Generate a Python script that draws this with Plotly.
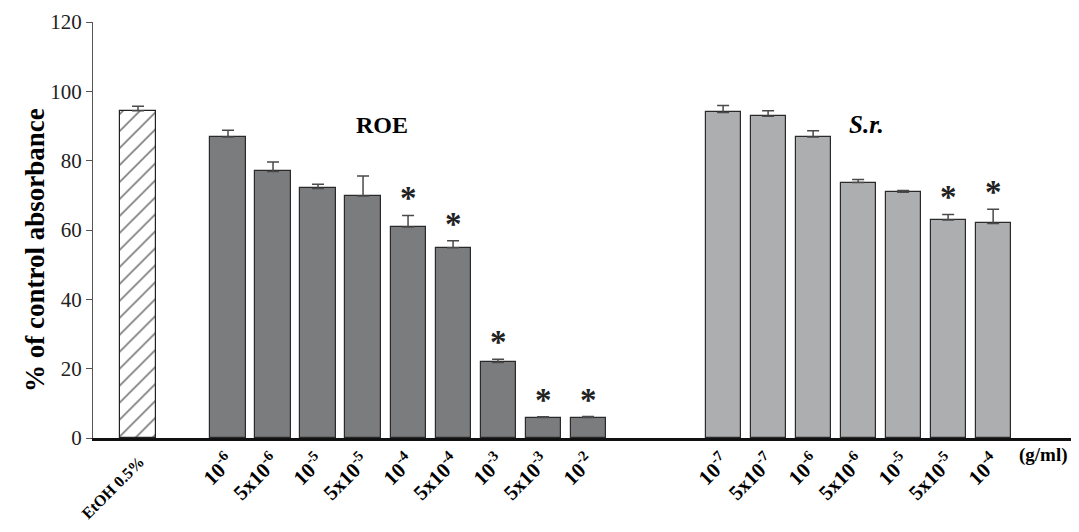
import plotly.graph_objects as go

# ---- data ----
etoh_label = ["EtOH 0.5%"]
etoh_vals = [94.4]
etoh_errs = [1.3]

roe_labels = ["10<sup>-6</sup>", "5x10<sup>-6</sup>", "10<sup>-5</sup>", "5x10<sup>-5</sup>",
              "10<sup>-4</sup>", "5x10<sup>-4</sup>", "10<sup>-3</sup>", "5x10<sup>-3</sup>", "10<sup>-2</sup>"]
roe_vals = [86.8, 76.9, 72.0, 69.8, 60.9, 54.9, 21.8, 5.9, 5.9]
roe_errs = [2.0, 2.7, 1.2, 5.8, 3.3, 2.0, 0.9, 0.2, 0.3]
roe_sig = [False, False, False, False, True, True, True, True, True]

sr_labels = ["10<sup>-7</sup>", "5x10<sup>-7</sup>", "10<sup>-6</sup>", "5x10<sup>-6</sup>",
             "10<sup>-5</sup>", "5x10<sup>-5</sup>", "10<sup>-4</sup>"]
sr_vals = [93.9, 92.8, 86.8, 73.7, 70.9, 62.9, 61.9]
sr_errs = [2.0, 1.6, 1.8, 0.9, 0.5, 1.6, 4.1]
sr_sig = [False, False, False, False, False, True, True]

y_ticks = [0, 20, 40, 60, 80, 100, 120]

# ---- layout positions (slot indices) ----
etoh_x = [0]
roe_x = [2 + i for i in range(len(roe_vals))]
sr_x = [roe_x[-1] + 3 + i for i in range(len(sr_vals))]

SERIF = "Liberation Serif, Times New Roman, serif"
BAR_W = 0.78
err_style = dict(type="data", symmetric=False, thickness=1.5, width=6, color="#4a4a4a")

fig = go.Figure()
fig.add_trace(go.Bar(
    x=etoh_x, y=etoh_vals, width=BAR_W,
    marker=dict(color="white", line=dict(color="#222", width=1.2),
                pattern=dict(shape="/", fgcolor="#000", bgcolor="white", size=12, solidity=0.14)),
    error_y=dict(array=etoh_errs, arrayminus=[0] * len(etoh_errs), **err_style),
    showlegend=False))
fig.add_trace(go.Bar(
    x=roe_x, y=roe_vals, width=BAR_W,
    marker=dict(color="#7b7c7e", line=dict(color="#2a2a2a", width=1.2)),
    error_y=dict(array=roe_errs, arrayminus=[0] * len(roe_errs), **err_style),
    showlegend=False))
fig.add_trace(go.Bar(
    x=sr_x, y=sr_vals, width=BAR_W,
    marker=dict(color="#adaeb0", line=dict(color="#2a2a2a", width=1.2)),
    error_y=dict(array=sr_errs, arrayminus=[0] * len(sr_errs), **err_style),
    showlegend=False))

# significance stars
for xs, vs, es, sig in [(roe_x, roe_vals, roe_errs, roe_sig), (sr_x, sr_vals, sr_errs, sr_sig)]:
    for x, v, e, s in zip(xs, vs, es, sig):
        if s:
            fig.add_annotation(x=x, y=v + e, text="<b>*</b>", showarrow=False, yanchor="bottom",
                               yshift=-3, font=dict(family=SERIF, size=33, color="#222"))

# group titles
fig.add_annotation(x=(roe_x[0] + roe_x[-1]) / 2 - 0.57, y=90.3, text="<b>ROE</b>", showarrow=False,
                   font=dict(family=SERIF, size=24, color="black"))
fig.add_annotation(x=(sr_x[0] + sr_x[-1]) / 2 + 0.18, y=90.3, text="<b><i>S.r.</i></b>", showarrow=False,
                   font=dict(family=SERIF, size=25, color="black"))
fig.add_annotation(xref="paper", yref="paper", x=1.0, y=0, xanchor="right", yanchor="middle",
                   xshift=-1, yshift=-17,
                   text="<b>(g/ml)</b>", showarrow=False, font=dict(family=SERIF, size=19, color="black"))
fig.add_annotation(xref="paper", yref="paper", x=0, y=0.452, xshift=-75, textangle=-90,
                   text="<b>% of control absorbance</b>", showarrow=False,
                   font=dict(family=SERIF, size=27, color="black"))

all_x = etoh_x + roe_x + sr_x
all_labels = (['<span style="font-size:16px"><b>' + t + "</b></span>" for t in etoh_label]
              + ["<b>" + t + "</b>" for t in roe_labels + sr_labels])

fig.update_layout(
    width=1063, height=516,
    margin=dict(l=85, r=0, t=14, b=86, autoexpand=False),
    plot_bgcolor="white", paper_bgcolor="white",
    bargap=0,
    xaxis=dict(range=[-1, 20.73], tickvals=all_x, ticktext=all_labels, tickangle=-45,
               showline=True, linecolor="#111", linewidth=2.5, ticks="", showgrid=False,
               zeroline=False, automargin=False,
               tickfont=dict(family=SERIF, size=21, color="black")),
    yaxis=dict(range=[0, 120], tickvals=y_ticks, showline=True, linecolor="#555", linewidth=1.2,
               ticks="outside", ticklen=6, tickcolor="#555", showgrid=False, zeroline=False,
               automargin=False,
               tickfont=dict(family=SERIF, size=21, color="#222")),
    font=dict(family=SERIF),
)

fig.write_html("out.html")
